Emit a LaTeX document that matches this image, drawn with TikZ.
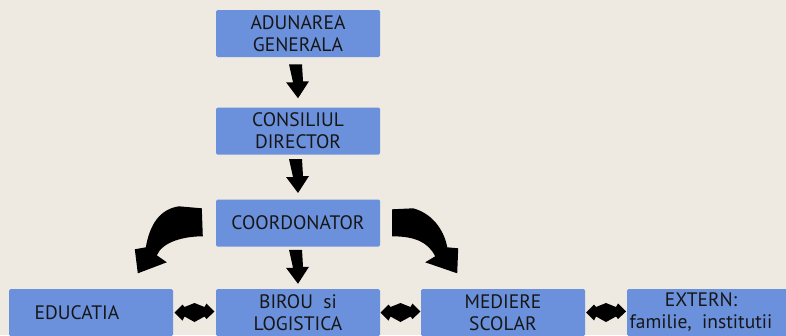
\documentclass[tikz,border=0pt]{standalone}
\usepackage{fontspec}
\setmainfont{PT Sans}
\usetikzlibrary{calc}
\definecolor{paper}{RGB}{238,234,225}
\definecolor{boxblue}{RGB}{108,145,220}
\definecolor{ink}{RGB}{22,22,22}
\tikzset{
  box/.style={fill=boxblue, rounded corners=1.5pt, minimum width=164pt, minimum height=47pt,
    inner sep=0pt, align=center, text=ink, font=\fontsize{19.5}{22}\selectfont},
  blockarrow/.style={fill=black, draw=none},
  downarrow/.pic={\fill[blockarrow] (-9,-18) -- (4,-18) -- (5,-1) -- (11,-1) -- (0,16) -- (-12,0) -- (-5,0) -- cycle;},
  dblarrow/.pic={\fill[blockarrow] (-20,0) -- (-12,-8) -- (-10,-5.5) -- (0,-9.5) -- (10,-5.5) -- (12,-9) -- (20,-1)
     -- (12,6.5) -- (10,4) -- (0,9.5) -- (-10,4) -- (-12,8) -- cycle;}
}
\begin{document}
\begin{tikzpicture}[x=1pt,y=-1pt]
\useasboundingbox (0,0) rectangle (786,335);
\clip (0,0) rectangle (786,335);
\fill[paper] (0,0) rectangle (786,335);

\node[box] (adun) at (298,33.5) {ADUNAREA\\GENERALA};
\node[box] (cons) at (298,131) {CONSILIUL\\DIRECTOR};
\node[box] (coord) at (298,223) {COORDONATOR};
\node[box] (educ) at (91,312.5) {\hspace*{-28pt}EDUCATIA};
\node[box] (birou) at (298,312.5) {BIROU\ \ si\\LOGISTICA};
\node[box] (med) at (503,312.5) {MEDIERE\\SCOLAR};
\fill[boxblue] (770,289) rectangle (786,336);
\node[box, minimum width=148pt] (ext) at (701,312.5) {EXTERN:\\familie,\ \ institutii};

% vertical arrows
\pic at ($(adun.south)!0.5!(cons.north)$) {downarrow};
\pic at ($(cons.south)!0.5!(coord.north)$) {downarrow};
\pic at ($(coord.south)!0.5!(birou.north)$) {downarrow};

% curved arrows
\begin{scope}[shift={(coord.north west)}]
\fill[blockarrow] (-37,7) -- (-14,9) -- (-13,37) .. controls (-31,37) and (-53,42) .. (-59,56)
  -- (-49,63) -- (-78,74) -- (-81,50) -- (-70,48) .. controls (-66,25) and (-56,10) .. (-37,7) -- cycle;
\end{scope}
\begin{scope}[shift={(coord.north east)}]
\fill[blockarrow] (12,10) -- (33,9) .. controls (55,15) and (65,35) .. (67,48)
  -- (78,49) -- (77,74) -- (45,63) -- (55,57) .. controls (48,43) and (35,37) .. (12,37) -- cycle;
\end{scope}

% horizontal double arrows
\pic at ($(educ.east)!0.5!(birou.west)$) {dblarrow};
\pic at ($(birou.east)!0.5!(med.west)$) {dblarrow};
\pic at ($(med.east)!0.5!(ext.west)$) {dblarrow};
\end{tikzpicture}
\end{document}
